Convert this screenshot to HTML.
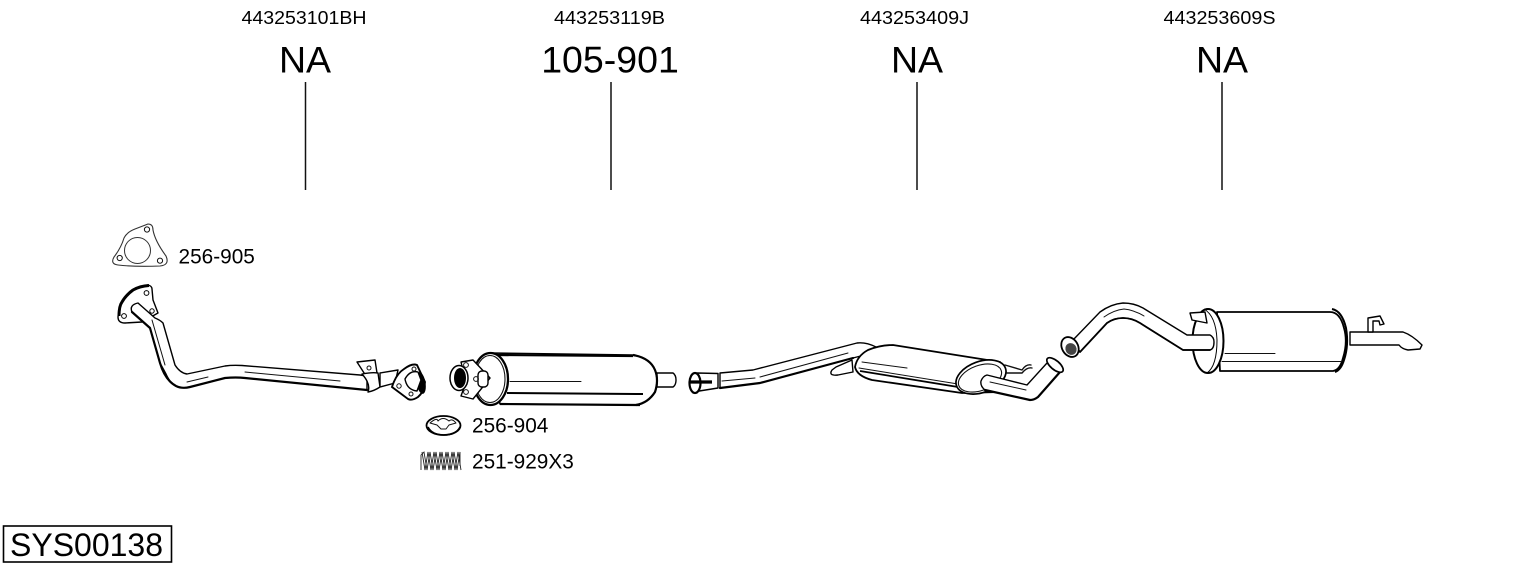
<!DOCTYPE html>
<html><head><meta charset="utf-8"><style>
html,body{margin:0;padding:0;background:#fff}
svg{display:block}
text{font-family:"Liberation Sans",Arial,sans-serif;fill:#000}
.o{fill:#fff;stroke:#000;stroke-width:1.4;stroke-linejoin:round;stroke-linecap:round}
.l{fill:none;stroke:#111;stroke-width:1;stroke-linecap:round;stroke-linejoin:round}
.t{fill:none;stroke:#000;stroke-width:2.2;stroke-linecap:round;stroke-linejoin:round}
</style></head><body>
<svg width="1530" height="566" viewBox="0 0 1530 566" xmlns="http://www.w3.org/2000/svg">
<g font-size="18" text-anchor="middle">
<text x="304" y="24" textLength="125" lengthAdjust="spacingAndGlyphs">443253101BH</text>
<text x="609.5" y="24" textLength="111" lengthAdjust="spacingAndGlyphs">443253119B</text>
<text x="914.5" y="24" textLength="109" lengthAdjust="spacingAndGlyphs">443253409J</text>
<text x="1219.5" y="24" textLength="112" lengthAdjust="spacingAndGlyphs">443253609S</text></g>
<g font-size="37.5" text-anchor="middle">
<text x="305" y="72.5">NA</text><text x="610" y="72.5">105-901</text>
<text x="917" y="72.5">NA</text><text x="1222" y="72.5">NA</text></g>
<g stroke="#111" stroke-width="1.5"><path d="M305.5 82V190M611 82V190M917 82V190M1222 82V190"/></g>
<g font-size="20.8"><text x="178.5" y="263.5">256-905</text><text x="472" y="432.5">256-904</text><text x="472" y="468.5">251-929X3</text></g>
<rect x="3.5" y="526" width="168" height="36" fill="#fff" stroke="#000" stroke-width="1.6"/>
<text x="10" y="556" font-size="32">SYS00138</text>

<!-- gasket 256-905 -->
<path class="o" style="stroke:#333;stroke-width:1.1" d="M148 224Q153 224 153 230Q155 241 166 256Q170 265 160 266Q135 267 118 265Q110 264 114 257Q121 248 124 238Q127 232 135 229Z"/>
<circle class="l" style="stroke:#333" cx="137.5" cy="250.5" r="13"/>
<circle class="l" cx="147" cy="229.5" r="2.6"/><circle class="l" cx="119.7" cy="258" r="2.6"/><circle class="l" cx="160" cy="260.7" r="2.6"/>

<!-- front pipe -->
<path class="o" d="M118 317Q119 306 122 302Q126 295 133 290Q140 286 148 285Q152 286 152 289L153 300L158 313L142 322L125 323Q118 323 118 317Z"/>
<path d="M119 316Q119 306 122 302Q126 295 133 290Q140 286 149 285.5" fill="none" stroke="#000" stroke-width="3"/>
<circle class="o" style="stroke-width:1" cx="146.5" cy="293" r="2.4"/><circle class="o" style="stroke-width:1" cx="124" cy="316" r="2.4"/><circle class="o" style="stroke-width:1" cx="152" cy="311" r="2.2"/>
<path class="o" d="M132 312Q129 305 138 303L155 318Q160 320 163 323L175 365Q180 373 187 374L225 366Q232 365 242 365.5L360 375L367 376V390L245 378Q236 377 225 378L190 387Q182 389 176 386Q170 383 166 374L160 363L150 328Z"/>
<path class="t" d="M132 312L150 328L160 363Q165 380 176 386Q182 389 190 387L225 378Q236 377 245 378L367 390"/>
<path class="l" d="M152 320L165 365M187 382L208 377M245 372L340 381"/>
<path class="o" d="M380 373L398 370L395 383L380 387Z"/>
<path class="o" d="M357 362L375 360L377 373L366 376Z"/>
<circle class="l" cx="369" cy="368" r="2"/>
<path class="o" d="M362 374Q372 372 378 373L380 387Q374 391 368 392Q371 384 362 374Z"/>
<path d="M392 387Q396 374 404 369Q412 363 417 365L425 382Q424 392 418 397Q412 401 408 399Z" fill="#fff" stroke="#000" stroke-width="1.9"/>
<ellipse cx="421" cy="383" rx="4.5" ry="11" fill="#000" transform="rotate(-10 421 383)"/>
<path class="o" d="M405 379Q410 370 418 372L421 380L417 391Q407 390 405 379Z"/>
<circle class="l" cx="414" cy="369" r="2"/><circle class="l" cx="399" cy="386" r="2.2"/><circle class="l" cx="411" cy="394" r="2"/>

<!-- center muffler 105-901 -->
<path class="o" d="M657 373H673Q676 375 676 380Q676 385 673 387H657Z"/>
<path class="o" style="stroke-width:1.6" d="M490 353L633 355Q650 358 655 370Q659 380 655 392Q648 403 636 405L500 404Z"/>
<path d="M497 355L633 356M500 404L640 405" fill="none" stroke="#000" stroke-width="2.2"/>
<path d="M633 355Q650 358 655 370Q659 380 655 392Q648 403 636 405" fill="none" stroke="#000" stroke-width="2.2"/>
<path class="l" d="M510 381.5L581 381.5"/>
<path d="M507 393L643 394" fill="none" stroke="#000" stroke-width="2"/>
<ellipse cx="490.5" cy="379" rx="17.5" ry="26" fill="#fff" stroke="#000" stroke-width="2.3"/>
<ellipse cx="490" cy="379" rx="15" ry="23.5" fill="none" stroke="#111" stroke-width="1.1"/>
<path class="o" d="M461 362L473 360L490 378L473 399L461 396L466 382Z"/>
<rect x="478" y="371" width="10" height="16" rx="4" class="o"/>
<circle class="l" cx="466" cy="365" r="2.4"/><circle class="l" cx="476" cy="379" r="2.4"/><circle class="l" cx="466" cy="392" r="2.4"/>
<ellipse cx="459" cy="378" rx="9" ry="12.5" fill="#fff" stroke="#000" stroke-width="1.5"/>
<ellipse cx="460" cy="378" rx="6" ry="10" fill="#000"/>

<!-- gasket 256-904 -->
<ellipse cx="443.5" cy="425.5" rx="17" ry="9.5" fill="#fff" stroke="#000" stroke-width="1.8"/>
<path d="M428 427Q432 435 444 435Q456 435 460 427" fill="none" stroke="#000" stroke-width="1.6"/>
<path class="l" d="M430 423Q437 417 438 421Q443 416 449 421Q452 418 456 423L449 425L446 429H441L437 425Z"/>
<!-- spring -->
<g fill="none" stroke="#222" stroke-width=".9">
<path d="M422 452L425 470L428 452L431 470L434 452L437 470L440 452L443 470L446 452L449 470L452 452L455 470L458 452L461 470"/>
<path d="M421 470V455L424 452L427 470L430 452L433 470L436 452L439 470L442 452L445 470L448 452L451 470L454 452L457 470L460 452V466"/>
</g>

<!-- center pipe and silencer -->
<path class="o" d="M720 373L753 370L857 343Q866 342 876 347L876 352L853 358L760 383L720 388Z"/>
<path class="t" d="M720 388L760 383L853 358"/>
<path class="l" d="M722 381L755 378M760 377L848 353"/>
<path d="M853 372L838 375Q828 376 832 370L836 367L852 360Z" class="o"/>
<path class="o" d="M718 373.5L697 373L693 392L718 388Z"/>
<ellipse cx="695" cy="383" rx="5.5" ry="10" fill="#fff" stroke="#000" stroke-width="2.2"/>
<path d="M690 382H712" stroke="#000" stroke-width="3.2"/>
<path class="l" style="stroke-width:1.4" d="M1005 365L1022 370Q1026 364 1031 365M1007 373L1022 373Q1027 367 1032 368"/>
<path class="o" style="stroke-width:1.8" d="M855 367Q857 356 868 350Q880 345 893 345L1000 362L1000 392L962 393L872 380Q857 376 855 367Z"/>
<path class="l" d="M862 362L907 368M859 368L958 384"/>
<path d="M860 371L958 387" fill="none" stroke="#000" stroke-width="1.8"/>
<ellipse cx="981" cy="377" rx="26" ry="15.5" fill="#fff" stroke="#000" stroke-width="1.7" transform="rotate(-20 981 377)"/>
<ellipse cx="980" cy="378" rx="22.5" ry="12.5" fill="none" stroke="#111" stroke-width="1.1" transform="rotate(-20 980 378)"/>
<path class="o" d="M987 375L1027 385L1047 363L1060 372L1038 397Q1034 400 1030 400L985 390Q980 386 981 381Q983 376 987 375Z"/>
<path class="t" d="M985 390L1030 400Q1034 400 1038 397L1060 372"/>
<path class="l" d="M990 382L1026 390"/>
<ellipse cx="1055" cy="365" rx="10" ry="4.5" fill="#fff" stroke="#000" stroke-width="1.7" transform="rotate(40 1055 365)"/>

<!-- rear muffler -->
<path class="o" d="M1350 332H1403Q1412 335 1422 345L1420 349L1408 350Q1402 349 1399 345H1350Z"/>
<path class="o" d="M1368 332V318L1380 316L1384 324L1380 325L1379 321L1373 321V332Z"/>
<path class="o" style="stroke-width:1.8" d="M1217 312H1330Q1340 312 1344 328Q1348 342 1343 358Q1340 370 1333 371L1220 371Z"/>
<path class="l" d="M1225 353.5H1275"/><path d="M1222 361.5H1342" class="l"/>
<path d="M1332 309Q1342 311 1346 328Q1349 345 1344 360Q1341 370 1335 372" fill="none" stroke="#000" stroke-width="2"/>
<ellipse cx="1208" cy="341" rx="15.5" ry="32" fill="#fff" stroke="#000" stroke-width="2"/>
<path d="M1204 309Q1216 316 1217 340Q1217 366 1207 373" fill="none" stroke="#000" stroke-width="1"/>

<!-- rear pipe -->
<path class="o" d="M1073 340L1100 312Q1111 304 1123 303Q1134 303 1143 308L1187 335H1210Q1214 337 1214 342Q1214 349 1210 350H1192Q1187 350 1183 350L1140 323Q1132 318 1123 318Q1114 318 1107 323L1080 352Z"/>
<path class="l" d="M1104 317Q1114 310 1124 309Q1134 310 1144 316"/>
<path class="t" style="stroke-width:1.8" d="M1080 352L1107 323Q1114 318 1123 318Q1132 318 1140 323L1183 350H1210"/>
<path class="o" d="M1190 313L1205 312L1207 323L1192 320Z"/>
<ellipse cx="1070" cy="347" rx="8" ry="10.5" fill="#fff" stroke="#000" stroke-width="1.8" transform="rotate(-30 1070 347)"/>
<ellipse cx="1071" cy="349" rx="5.5" ry="6" fill="#444" transform="rotate(-30 1071 349)"/>
</svg>
</body></html>
